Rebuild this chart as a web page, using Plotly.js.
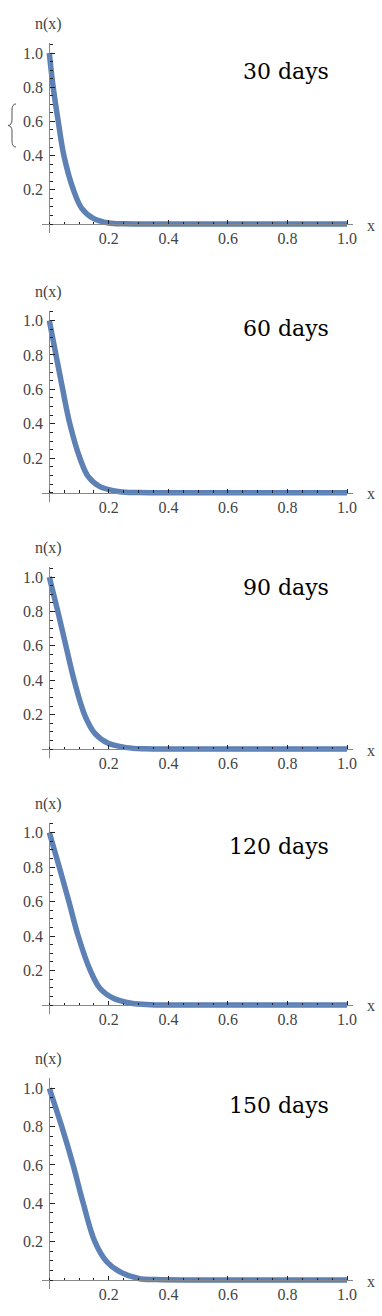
<!DOCTYPE html>
<html>
<head>
<meta charset="utf-8">
<script src="https://cdn.plot.ly/plotly-3.0.1.min.js"></script>
<style>
  body { margin: 0; background: #fff; }
  #profiles { width: 382px; height: 1316px; }
</style>
</head>
<body>
<div id="profiles"></div>
<script>
// n(x) profiles, one per time step
var days = ["30 days", "60 days", "90 days", "120 days", "150 days"];

var x30 = [0, 0.013, 0.030, 0.049, 0.081, 0.109, 0.148, 0.20, 0.25, 0.3, 0.5, 0.7, 1.0];
var n30 = [1, 0.80, 0.60, 0.40, 0.20, 0.092, 0.033, 0.006, 0.001, 0, 0, 0, 0];

var x60 = [0, 0.0225, 0.045, 0.069, 0.103, 0.131, 0.170, 0.237, 0.3, 0.5, 0.7, 1.0];
var n60 = [1, 0.80, 0.60, 0.40, 0.20, 0.093, 0.035, 0.006, 0.001, 0, 0, 0];

var x90 = [0, 0.029, 0.056, 0.084, 0.120, 0.153, 0.198, 0.26, 0.32, 0.5, 0.7, 1.0];
var n90 = [1, 0.797, 0.598, 0.395, 0.193, 0.091, 0.033, 0.008, 0.001, 0, 0, 0];

var x120 = [0, 0.034, 0.066, 0.097, 0.137, 0.170, 0.215, 0.276, 0.34, 0.5, 0.7, 1.0];
var n120 = [1, 0.797, 0.598, 0.40, 0.203, 0.097, 0.039, 0.010, 0.002, 0, 0, 0];

var x150 = [0, 0.042, 0.080, 0.114, 0.153, 0.193, 0.237, 0.30, 0.36, 0.5, 0.7, 1.0];
var n150 = [1, 0.80, 0.60, 0.40, 0.20, 0.095, 0.043, 0.008, 0.002, 0, 0, 0];

var xs = [x30, x60, x90, x120, x150];
var ns = [n30, n60, n90, n120, n150];

var tickVals = [0.2, 0.4, 0.6, 0.8, 1.0];
var tickText = ["0.2", "0.4", "0.6", "0.8", "1.0"];

// page geometry (pixels): where y=0 and y=1 sit for each panel
var W = 382, H = 1316;
var zeroPx = [224, 492.7, 749, 1005, 1280];
var onePx = [53, 320.5, 577, 832.5, 1088.3];
var labelPx = [72, 328, 587, 846, 1105];
var originX = 49.3, unitX = 297.7;

var serif = '"Liberation Serif", "Times New Roman", serif';
var blue = "rgb(94,129,181)";

var data = [];
var layout = {
  width: W,
  height: H,
  margin: { l: 0, r: 0, t: 0, b: 0 },
  paper_bgcolor: "#fff",
  plot_bgcolor: "rgba(0,0,0,0)",
  showlegend: false,
  annotations: [],
  shapes: []
};

function py(p) { return 1 - p / H; }

for (var i = 0; i < 5; i++) {
  var suf = i === 0 ? "" : String(i + 1);
  data.push({
    x: xs[i],
    y: ns[i],
    xaxis: "x" + suf,
    yaxis: "y" + suf,
    type: "scatter",
    mode: "lines",
    line: { color: blue, width: 5.5, shape: "spline", smoothing: 1 },
    hoverinfo: "skip"
  });

  var scaleY = zeroPx[i] - onePx[i];
  var yBot = zeroPx[i] + 9, yTop = onePx[i] - 10;

  layout["xaxis" + suf] = {
    domain: [42 / W, 353 / W],
    range: [-(originX - 42) / unitX, (353 - originX) / unitX],
    anchor: "free",
    position: py(zeroPx[i]),
    showgrid: false,
    zeroline: false,
    showline: true,
    linecolor: "#888",
    linewidth: 1,
    ticks: "inside",
    ticklen: 4,
    tickwidth: 1,
    tickcolor: "#222",
    tickmode: "array",
    tickvals: tickVals,
    ticktext: tickText,
    minor: { tickmode: "linear", tick0: 0, dtick: 0.05, ticks: "inside", ticklen: 2.5, tickcolor: "#222", showgrid: false },
    tickfont: { family: serif, size: 16, color: "#444" },
    fixedrange: true
  };
  layout["yaxis" + suf] = {
    domain: [py(yBot), py(yTop)],
    range: [-9 / scaleY, 1 + 10 / scaleY],
    anchor: "free",
    position: originX / W,
    showgrid: false,
    zeroline: false,
    showline: true,
    linecolor: "#888",
    linewidth: 1,
    ticks: "inside",
    ticklen: 4.5,
    tickwidth: 1,
    tickcolor: "#222",
    tickmode: "array",
    tickvals: tickVals,
    ticktext: tickText,
    ticklabelstandoff: 3,
    minor: { tickmode: "linear", tick0: 0, dtick: 0.05, ticks: "inside", ticklen: 2.5, tickcolor: "#222", showgrid: false },
    tickfont: { family: serif, size: 16, color: "#444" },
    fixedrange: true
  };

  // axis names and the time label
  layout.annotations.push({
    xref: "paper", yref: "paper", x: 48 / W, y: py(onePx[i] - 29),
    text: "n(x)", showarrow: false, xanchor: "center", yanchor: "middle",
    font: { family: serif, size: 16, color: "#444" }
  });
  layout.annotations.push({
    xref: "paper", yref: "paper", x: 371 / W, y: py(zeroPx[i] + 1),
    text: "x", showarrow: false, xanchor: "center", yanchor: "middle",
    font: { family: serif, size: 16, color: "#444" }
  });
  layout.annotations.push({
    xref: "paper", yref: "paper", x: 331 / W, y: py(labelPx[i]),
    text: days[i], showarrow: false, xanchor: "right", yanchor: "middle",
    font: { family: '"DejaVu Serif", serif', size: 22, color: "#000" }
  });
}

// the stray brace next to 0.6 in the first panel
function bx(p) { return (p / W).toFixed(4); }
function by(p) { return py(p).toFixed(4); }
layout.shapes.push({
  type: "path", xref: "paper", yref: "paper",
  path: "M " + bx(16) + " " + by(104) +
    " Q " + bx(12) + " " + by(104) + " " + bx(12) + " " + by(110) +
    " L " + bx(12) + " " + by(120) +
    " Q " + bx(12) + " " + by(125) + " " + bx(8) + " " + by(125.5) +
    " Q " + bx(12) + " " + by(126) + " " + bx(12) + " " + by(131) +
    " L " + bx(12) + " " + by(141) +
    " Q " + bx(12) + " " + by(147) + " " + bx(16) + " " + by(147),
  line: { color: "#555", width: 1 }
});

document.addEventListener("DOMContentLoaded", function (event) {
  Plotly.newPlot("profiles", data, layout, { displayModeBar: false, staticPlot: true });
});
</script>
</body>
</html>
